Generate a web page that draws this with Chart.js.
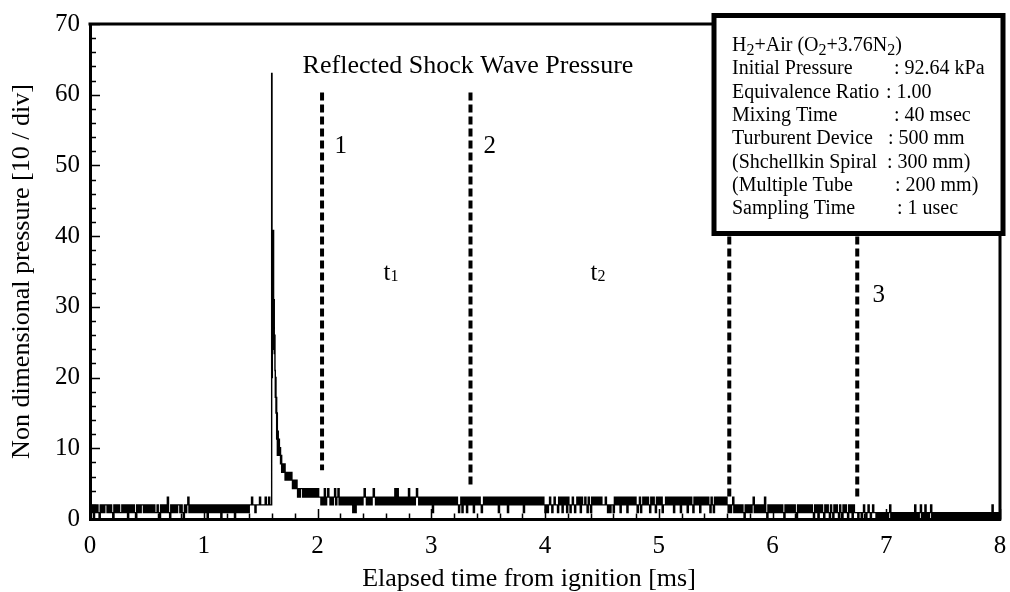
<!DOCTYPE html>
<html>
<head>
<meta charset="utf-8">
<script src="https://cdn.jsdelivr.net/npm/chart.js@4.4.0/dist/chart.umd.min.js"></script>
<style>
  html, body { margin: 0; padding: 0; background: #fff; }
  #c { display: block; }
</style>
</head>
<body>
<canvas id="c" width="1010" height="592"></canvas>
<script>
// ---- Pressure trace (non dimensional), sampled every SAMPLE_MS ----
const SAMPLE_MS = 0.01;

// 0.00 - 1.40 ms : quiescent mixture before the shock arrives
const quietStart = 0;
const quietValues = [
  2, 0.9, 2, 0, 2, 0.9, 2, 0.9, 0, 2,
  0.9, 2, 0.9, 2, 2, 0.9, 2, 0.9, 2, 0.9,
  0, 2, 0.9, 2, 0.9, 2, 0.9, 0.9, 2, 0.9,
  2, 0.9, 2, 0, 2, 0.9, 2, 0.9, 2, 0.9,
  0, 2, 0.9, 2, 0.9, 2, 2, 0.9, 2, 0.9,
  2, 0.9, 2, 0.9, 2, 0.9, 2, 0.9, 0.9, 2,
  0.9, 0, 2, 0.9, 2, 0.9, 2, 0.9, 3.1, 0.9,
  0, 2, 0.9, 2, 0.9, 2, 0.9, 2, 2, 0.9,
  2, 0.9, 0, 2, 0.9, 2, 3.1, 0.9, 2, 0.9,
  2, 0.9, 2, 0.9, 2, 0.9, 2, 0.9, 2, 0.9,
  2, 0.9, 2, 0, 2, 0.9, 2, 0.9, 2, 0.9,
  2, 0.9, 2, 0.9, 2, 0, 2, 0.9, 2, 0.9,
  2, 0.9, 2, 0.9, 2, 0.9, 2, 0, 2, 0.9,
  2, 0.9, 2, 0.9, 2, 0.9, 2, 0.9, 2, 0.9,
  2
];

// 1.41 - 1.58 ms : just before the reflected shock
const preShockStart = 1.41;
const preShockValues = [2, 3.1, 2, 2, 0.9, 2, 2, 2, 3.1, 2, 2, 2, 2, 3.1, 2, 2, 3.1, 2];

// 1.585 - 1.850 ms : reflected shock peak and decay (finer time steps)
const shockTimes = [
  1.585, 1.594, 1.597,
  1.600, 1.603, 1.606, 1.609,
  1.611, 1.614, 1.617, 1.620, 1.623, 1.626, 1.629, 1.632, 1.635, 1.638, 1.641, 1.644, 1.647, 1.650,
  1.655, 1.660, 1.665, 1.670, 1.675, 1.680, 1.685, 1.690, 1.695, 1.700,
  1.705, 1.710, 1.715, 1.720, 1.725, 1.730, 1.735, 1.740, 1.745, 1.750,
  1.755, 1.760, 1.765, 1.770, 1.775, 1.780, 1.785, 1.790, 1.795, 1.800,
  1.805, 1.810, 1.815, 1.820, 1.825, 1.830, 1.835, 1.840, 1.845, 1.850
];
const shockValues = [
  2, 2, 63,
  20, 33, 24, 36,
  40.8, 27, 31, 23.4, 26, 21, 17.2, 20, 15, 17.2, 11.3, 15, 9, 12.4,
  9, 11.3, 9, 10.1, 7.8, 9, 6.6, 7.8, 6.6, 7.8,
  6.6, 7.8, 5.5, 6.6, 5.5, 6.6, 5.5, 6.6, 5.5, 6.6,
  5.5, 6.6, 5.5, 6.6, 5.5, 4.3, 5.5, 4.3, 5.5, 4.3,
  5.5, 4.3, 5.5, 4.3, 3.1, 4.3, 3.1, 4.3, 3.1, 4.3
];

// 1.86 - 5.60 ms : pressure plateau behind the reflected shock
const plateauStart = 1.86;
const plateauValues = [
  4.3, 3.1, 4.3, 3.1, 4.3, 3.1, 4.3, 3.1, 4.3, 3.1,
  4.3, 3.1, 4.3, 3.1, 4.3, 3.1, 3.1, 2, 3.1, 2,
  4.3, 2, 3.1, 4.3, 3.1, 2, 3.1, 2, 3.1, 4.3,
  2, 3.1, 4.3, 2, 3.1, 2, 3.1, 2, 3.1, 2,
  3.1, 2, 3.1, 2, 3.1, 0.9, 3.1, 0.9, 3.1, 2,
  3.1, 2, 3.1, 2, 3.1, 4.3, 3.1, 2, 3.1, 2,
  3.1, 2, 3.1, 4.3, 3.1, 2, 3.1, 2, 3.1, 2,
  3.1, 2, 3.1, 2, 3.1, 2, 3.1, 2, 3.1, 2,
  3.1, 2, 4.3, 2, 4.3, 2, 3.1, 2, 3.1, 2,
  3.1, 2, 3.1, 2, 4.3, 2, 3.1, 2, 3.1, 2,
  3.1, 4.3, 3.1, 2, 3.1, 2, 3.1, 2, 3.1, 2,
  3.1, 2, 3.1, 2, 3.1, 0.9, 3.1, 2, 3.1, 2,
  3.1, 2, 3.1, 2, 3.1, 2, 3.1, 2, 3.1, 2,
  3.1, 2, 3.1, 2, 3.1, 2, 3.1, 2, 0.9, 2,
  3.1, 0.9, 3.1, 2, 3.1, 0.9, 3.1, 2, 3.1, 2,
  3.1, 0.9, 3.1, 2, 3.1, 2, 3.1, 2, 0.9, 2,
  3.1, 2, 3.1, 2, 3.1, 2, 3.1, 2, 3.1, 2,
  3.1, 2, 3.1, 0.9, 3.1, 2, 3.1, 2, 3.1, 2,
  3.1, 0.9, 3.1, 2, 3.1, 2, 3.1, 2, 3.1, 2,
  3.1, 2, 3.1, 2, 3.1, 0.9, 3.1, 2, 3.1, 2,
  3.1, 2, 3.1, 2, 3.1, 2, 3.1, 2, 3.1, 2,
  3.1, 2, 3.1, 2, 0.9, 2, 0.9, 2, 3.1, 2,
  0.9, 2, 3.1, 2, 2, 0.9, 3.1, 2, 3.1, 0.9,
  3.1, 2, 3.1, 0.9, 3.1, 2, 0.9, 2, 3.1, 2,
  0.9, 2, 3.1, 2, 3.1, 0.9, 3.1, 2, 2, 3.1,
  2, 0.9, 3.1, 2, 0.9, 3.1, 2, 3.1, 2, 3.1,
  2, 3.1, 2, 3.1, 2, 2, 2, 3.1, 2, 0.9,
  2, 0.9, 2, 2, 0.9, 3.1, 2, 3.1, 2, 3.1,
  0.9, 3.1, 2, 3.1, 2, 3.1, 0.9, 3.1, 2, 3.1,
  2, 3.1, 2, 3.1, 2, 0.9, 2, 3.1, 0.9, 2,
  3.1, 2, 3.1, 2, 3.1, 2, 0.9, 3.1, 2, 3.1,
  2, 0.9, 3.1, 2, 3.1, 2, 3.1, 0.9, 2, 2,
  3.1, 2, 3.1, 2, 3.1, 2, 3.1, 0.9, 3.1, 2,
  3.1, 2, 3.1, 0.9, 3.1, 2, 3.1, 2, 3.1, 0.9,
  3.1, 2, 3.1, 2, 0.9, 3.1, 2, 3.1, 2, 3.1,
  0.9, 3.1, 2, 3.1, 2, 3.1, 2, 3.1, 2, 0.9,
  3.1, 2, 0.9, 3.1, 2, 3.1, 2, 3.1, 2, 3.1,
  2, 3.1, 2, 3.1, 2
];

// 5.61 - 6.72 ms : after the second pressure drop
const reflectedStart = 5.61;
const reflectedValues = [
  0.9, 2, 0.9, 2, 3.1, 0.9, 2, 0.9, 2, 0.9,
  2, 0.9, 2, 0.9, 0, 2, 0.9, 2, 0.9, 2,
  0.9, 2, 3.1, 0.9, 2, 0.9, 2, 0.9, 2, 0.9,
  2, 0.9, 3.1, 0.9, 0, 2, 0.9, 2, 0.9, 2,
  0.9, 2, 0.9, 2, 0.9, 2, 0.9, 2, 0.9, 0,
  2, 0.9, 2, 0.9, 2, 0.9, 2, 0.9, 2, 0.9,
  0, 2, 0.9, 2, 0.9, 2, 0.9, 2, 0.9, 2,
  0.9, 2, 0.9, 2, 0.9, 0, 2, 0.9, 2, 0,
  2, 0.9, 2, 0.9, 0, 2, 0.9, 2, 0.9, 0,
  2, 0.9, 0, 2, 0.9, 2, 0.9, 0, 2, 0.9,
  0, 2, 0.9, 2, 0.9, 0, 2, 0.9, 2, 0,
  2, 0.9
];

// 6.73 - 8.00 ms : tail
const tailStart = 6.73;
const tailValues = [
  0.9, 0.9, 0, 0.9, 0.9, 0, 0.9, 2, 0.9, 0,
  0.9, 2, 0.9, 0, 0.9, 2, 0.9, 0.9, 0, 0.9,
  0, 0.9, 0, 0.9, 0, 0.9, 0, 0.9, 0, 0.9,
  2, 0, 0.9, 0, 0.9, 0, 0.9, 0, 0.9, 0,
  0.9, 0, 0.9, 0, 0.9, 0, 0.9, 0, 0.9, 0,
  0.9, 0, 2, 0, 0.9, 0, 0.9, 2, 0, 0.9,
  0, 2, 0, 0.9, 0, 0.9, 2, 0, 0.9, 0,
  0.9, 0, 0.9, 0, 0.9, 0, 0.9, 0, 0.9, 0,
  0.9, 0, 0.9, 0, 0.9, 0, 0.9, 0, 0.9, 0,
  0.9, 0, 0.9, 0, 0.9, 0, 0.9, 0, 0.9, 0,
  0.9, 0, 0.9, 0, 0.9, 0, 0.9, 0, 0.9, 0,
  0.9, 0, 0.9, 0, 0.9, 0, 0.9, 0, 0.9, 0,
  2, 0, 0.9, 0, 0.9, 0, 0.9, 0
];

// ---- Event markers (dashed verticals) ----
const markerTimes   = [2.04, 3.345, 5.62, 6.745];
const markerTops    = [60.3, 60.3, 60.3, 60.3];
const markerBottoms = [6.9, 4.8, 3.0, 3.1];

// ---- Axis tick settings ----
const xTickStep = 1, yTickStep = 10;
const xMinorStep = 0.2, yMinorStep = 2;

// ---- Text ----
const chartTitle = 'Reflected Shock Wave Pressure';
const xTitle = 'Elapsed time from ignition [ms]';
const yTitle = 'Non dimensional pressure [10 / div]';
const noteTexts = ['1', '2', '3', 't_1', 't_2'];
const noteAt = [
  { x: 2.15, y: 51.8 }, { x: 3.46, y: 51.8 }, { x: 6.88, y: 30.7 },
  { x: 2.58, y: 33.8 }, { x: 4.40, y: 33.8 }
];
const infoLabels = [
  'H_2+Air (O_2+3.76N_2)', 'Initial Pressure', 'Equivalence Ratio', 'Mixing Time',
  'Turburent Device', '(Shchellkin Spiral', '(Multiple Tube', 'Sampling Time'
];
const infoValues = ['', ': 92.64 kPa', ': 1.00', ': 40 msec', ': 500 mm', ': 300 mm)', ': 200 mm)', ': 1 usec'];

// ---- Build the trace ----
const FONT = "'Liberation Serif', 'Times New Roman', serif";
const trace = [];
function addUniform(start, values) {
  values.forEach((v, i) => trace.push({ x: +(start + i * SAMPLE_MS).toFixed(4), y: v }));
}
addUniform(quietStart, quietValues);
addUniform(preShockStart, preShockValues);
shockTimes.forEach((t, i) => trace.push({ x: t, y: shockValues[i] }));
addUniform(plateauStart, plateauValues);
addUniform(reflectedStart, reflectedValues);
addUniform(tailStart, tailValues);

const datasets = [{
  data: trace,
  borderColor: '#000',
  borderWidth: 1.4,
  pointRadius: 0,
  stepped: true,
  tension: 0
}];
markerTimes.forEach((t, i) => {
  datasets.push({
    data: [{ x: t, y: markerTops[i] }, { x: t, y: markerBottoms[i] }],
    borderColor: '#000',
    borderWidth: 4,
    borderDash: [8, 4],
    borderCapStyle: 'butt',
    pointRadius: 0
  });
});

// draw text with "_n" subscripts
function drawRich(ctx, text, x, y, size, subSize, drop) {
  const parts = text.split(/_(\d)/);
  parts.forEach((p, i) => {
    if (!p) return;
    const sub = i % 2 === 1;
    ctx.font = (sub ? subSize : size) + 'px ' + FONT;
    ctx.fillText(p, x, y + (sub ? drop : 0));
    x += ctx.measureText(p).width;
  });
}

const decor = {
  id: 'decor',
  afterDraw(chart) {
    const { ctx, chartArea: a, scales: { x, y } } = chart;
    ctx.save();
    ctx.strokeStyle = '#000';
    ctx.fillStyle = '#000';

    // top and right edges of the frame
    ctx.lineWidth = 3;
    ctx.beginPath();
    ctx.moveTo(a.left - 1.5, a.top);
    ctx.lineTo(a.right, a.top);
    ctx.lineTo(a.right, a.bottom + 1.5);
    ctx.stroke();

    // inward tick marks
    ctx.lineWidth = 1.5;
    ctx.beginPath();
    const nx = Math.round((x.max - x.min) / xMinorStep);
    for (let k = 0; k <= nx; k++) {
      const v = x.min + k * xMinorStep;
      const px = Math.round(x.getPixelForValue(v)) + 0.5;
      const major = Math.abs(v / xTickStep - Math.round(v / xTickStep)) < 1e-6;
      ctx.moveTo(px, a.bottom);
      ctx.lineTo(px, a.bottom - (major ? 10 : 5.5));
    }
    const ny = Math.round((y.max - y.min) / yMinorStep);
    for (let k = 0; k <= ny; k++) {
      const v = y.min + k * yMinorStep;
      const py = Math.round(y.getPixelForValue(v)) + 0.5;
      const major = Math.abs(v / yTickStep - Math.round(v / yTickStep)) < 1e-6;
      ctx.moveTo(a.left, py);
      ctx.lineTo(a.left + (major ? 10 : 6), py);
    }
    ctx.stroke();

    // axis titles
    ctx.font = '26px ' + FONT;
    ctx.textAlign = 'center';
    ctx.textBaseline = 'alphabetic';
    ctx.fillText(xTitle, a.left + 439, 586);
    ctx.save();
    ctx.translate(29, (a.top + a.bottom) / 2);
    ctx.rotate(-Math.PI / 2);
    ctx.fillText(yTitle, 0, 0);
    ctx.restore();

    // title and annotations
    ctx.fillText(chartTitle, x.getPixelForValue(3.323), y.getPixelForValue(63.1));
    ctx.textAlign = 'left';
    noteTexts.forEach((t, i) => {
      drawRich(ctx, t, x.getPixelForValue(noteAt[i].x), y.getPixelForValue(noteAt[i].y), 25, 16, 1.5);
    });

    // conditions box
    const bx = a.right - 286, by = a.top - 8.5, bw = 289, bh = 218;
    ctx.fillStyle = '#fff';
    ctx.fillRect(bx, by, bw, bh);
    ctx.lineWidth = 5;
    ctx.strokeRect(bx, by, bw, bh);
    ctx.fillStyle = '#000';
    const colonOffset = [0, 180, 172, 180, 174, 173, 181, 183];
    infoLabels.forEach((lab, i) => {
      const base = by + 35.5 + i * 23.3;
      drawRich(ctx, lab, bx + 18, base, 20, 16, 3.5);
      if (infoValues[i]) {
        ctx.font = '20px ' + FONT;
        ctx.fillText(infoValues[i], bx + colonOffset[i], base);
      }
    });
    ctx.restore();
  }
};

new Chart(document.getElementById('c'), {
  type: 'line',
  data: { datasets },
  options: {
    responsive: false,
    animation: false,
    parsing: false,
    normalized: true,
    layout: { padding: { top: 24, right: 10, left: 0, bottom: 0 } },
    plugins: { legend: { display: false }, tooltip: { enabled: false } },
    scales: {
      x: {
        type: 'linear', min: 0, max: 8,
        ticks: { stepSize: xTickStep, color: '#000', font: { family: FONT, size: 25 }, padding: 12, maxRotation: 0 },
        grid: { display: true, drawOnChartArea: false, drawTicks: false },
        border: { display: true, color: '#000', width: 3 },
        afterFit(s) { s.height = 73; s.paddingLeft = 0; s.paddingRight = 0; }
      },
      y: {
        type: 'linear', min: 0, max: 70,
        ticks: { stepSize: yTickStep, color: '#000', font: { family: FONT, size: 25 }, padding: 10 },
        grid: { display: true, drawOnChartArea: false, drawTicks: false },
        border: { display: true, color: '#000', width: 3 },
        afterFit(s) { s.width = 90; s.paddingTop = 0; s.paddingBottom = 0; }
      }
    }
  },
  plugins: [decor]
});
</script>
</body>
</html>
